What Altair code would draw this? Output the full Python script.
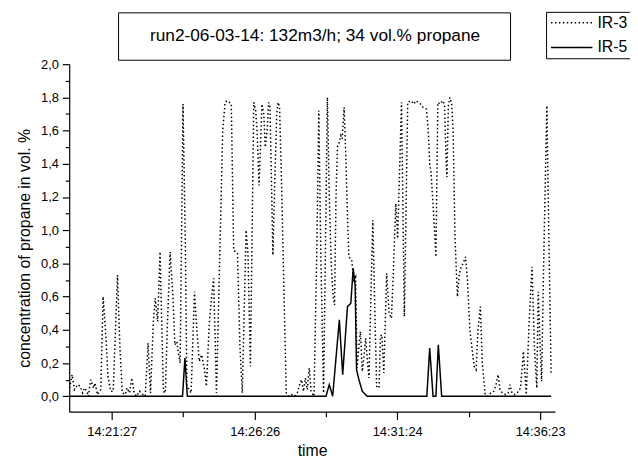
import altair as alt
import pandas as pd

FONT = "Liberation Sans"
TITLE = "run2-06-03-14: 132m3/h; 34 vol.% propane"
SERIES = ["IR-3", "IR-5"]

# time axis: seconds since midnight; samples are offsets (s) from 14:19:58
BASE = 51598
X_END = 52614
x_major = [51687, 51986, 52284, 52583]          # 14:21:27, 14:26:26, 14:31:24, 14:36:23
x_minor = [51836.5, 52135, 52433.5]
y_major = [0.0, 0.2, 0.4, 0.6, 0.8, 1.0, 1.2, 1.4, 1.6, 1.8, 2.0]
y_minor = [0.1, 0.3, 0.5, 0.7, 0.9, 1.1, 1.3, 1.5, 1.7, 1.9]

ir3_t = [
    1, 6, 11, 18, 23, 28, 32, 37, 40, 45,
    51, 54, 59, 66, 71, 77, 81, 87, 92, 101,
    106, 111, 117, 121, 126, 131, 136, 141, 147, 154,
    159, 165, 170, 176, 180, 185, 190, 193, 197, 201,
    205, 211, 217, 221, 225, 229, 232, 238, 243, 246,
    255, 262, 267, 272, 277, 283, 287, 293, 297, 302,
    308, 317, 321, 326, 330, 335, 339, 344, 352, 357,
    362, 370, 374, 379, 386, 390, 393, 397, 400, 403,
    407, 410, 414, 417, 420, 423, 426, 430, 434, 437,
    440, 444, 449, 454, 459, 465, 471, 477, 483, 486,
    490, 494, 498, 502, 506, 512, 518, 522, 526, 532,
    536, 540, 544, 548, 552, 555, 558, 561, 564, 568,
    571, 575, 579, 582, 585, 591, 595, 599, 602, 606,
    609, 613, 617, 620, 624, 627, 631, 635, 639, 643,
    648, 651, 654, 658, 664, 669, 674, 678, 683, 687,
    695, 701, 708, 715, 721, 725, 730, 735, 740, 747,
    751, 754, 757, 760, 764, 767, 771, 776, 781, 785,
    788, 790, 793, 796, 800, 803, 807, 812, 816, 820,
    824, 829, 833, 838, 842, 847, 851, 855, 860, 864,
    870, 875, 882, 888, 892, 897, 901, 906, 913, 918,
    922, 926, 931, 937, 944, 950, 956, 962, 968, 973,
    978, 981, 985, 988, 993, 999, 1003, 1008,
]
ir3_v = [
    0.05, 0.13, 0.04, 0.07, 0.06, 0.02, 0.05, 0.03, 0.00, 0.10,
    0.05, 0.08, 0.01, 0.04, 0.60, 0.35, 0.12, 0.03, 0.03, 0.73,
    0.30, 0.02, 0.01, 0.05, 0.02, 0.11, 0.02, 0.00, 0.03, 0.01,
    0.00, 0.32, 0.02, 0.45, 0.59, 0.45, 0.87, 0.50, 0.03, 0.02,
    0.40, 0.87, 0.60, 0.31, 0.33, 0.25, 0.20, 1.76, 0.90, 0.06,
    0.02, 0.63, 0.40, 0.21, 0.25, 0.16, 0.06, 0.44, 0.57, 0.71,
    0.02, 1.10, 1.60, 1.77, 1.78, 1.77, 1.76, 0.88, 0.86, 0.31,
    0.02, 1.00, 0.85, 0.18, 1.77, 1.72, 1.60, 1.27, 1.50, 1.76,
    1.70, 1.50, 1.60, 1.77, 1.74, 1.30, 0.85, 1.30, 1.70, 1.77,
    1.74, 1.30, 0.65, 0.02, 0.00, 0.01, 0.00, 0.02, 0.08, 0.10,
    0.03, 0.11, 0.04, 0.17, 0.03, 0.00, 0.90, 1.72, 0.90, 0.02,
    0.90, 1.80, 1.20, 0.80, 0.60, 0.55, 1.20, 1.50, 1.52, 1.57,
    1.55, 1.74, 1.40, 1.08, 0.84, 0.82, 0.70, 0.72, 0.17, 0.30,
    0.39, 0.15, 0.25, 0.35, 0.20, 0.11, 0.60, 1.06, 0.55, 0.06,
    0.05, 0.36, 0.37, 0.14, 0.74, 0.50, 0.47, 0.75, 1.16, 0.95,
    1.77, 0.48, 1.77, 1.78, 1.76, 1.78, 1.77, 1.76, 1.74, 1.73,
    1.60, 1.40, 1.34, 1.20, 1.00, 0.84, 1.77, 1.76, 1.78, 1.76,
    1.45, 1.32, 1.75, 1.80, 1.76, 1.60, 0.95, 0.60, 0.74, 0.78,
    0.80, 0.84, 0.70, 0.40, 0.30, 0.18, 0.16, 0.40, 0.54, 0.20,
    0.01, 0.00, 0.02, 0.03, 0.06, 0.13, 0.04, 0.02, 0.01, 0.02,
    0.07, 0.02, 0.01, 0.02, 0.05, 0.27, 0.01, 0.45, 0.78, 0.30,
    0.05, 0.63, 0.30, 0.09, 0.90, 1.75, 1.00, 0.13,
]
ir5_t = [1, 237, 242, 247, 537, 544, 551, 565, 572, 582, 589, 594,
         598, 601, 606, 613, 623, 748, 754, 761, 767, 772, 779, 1008]
ir5_v = [0, 0, 0.23, 0, 0, 0.07, 0, 0.46, 0.13, 0.54, 0.56, 0.77,
         0.67, 0.16, 0.10, 0.03, 0, 0, 0.29, 0, 0, 0.31, 0, 0]

rows = []
for t, v in zip(ir3_t, ir3_v):
    rows.append({"t": BASE + t, "v": v, "series": "IR-3"})
for t, v in zip(ir5_t, ir5_v):
    rows.append({"t": BASE + t, "v": v, "series": "IR-5"})
df = pd.DataFrame(rows)

xscale = alt.Scale(domain=[BASE, X_END], nice=False, zero=False)
yscale = alt.Scale(domain=[-0.093, 2.0], nice=False, zero=False)

common = dict(domainColor="black", tickColor="black", labelColor="black",
              titleColor="black", labelFont=FONT, titleFont=FONT, grid=False,
              domainWidth=1.2, tickWidth=1.2)

x_axis = alt.Axis(values=x_major, labelExpr="utcFormat(datum.value * 1000, '%H:%M:%S')",
                  tickSize=8, labelFontSize=13, labelPadding=6, labelFlush=False,
                  labelOverlap=False, title="time", titleFontSize=16,
                  titleFontWeight="normal", titlePadding=4, **common)
y_axis = alt.Axis(values=y_major, labelExpr="replace(format(datum.value, '.1f'), '.', ',')",
                  tickSize=7, labelFontSize=13, labelPadding=4, labelFlush=False,
                  labelOverlap=False, title="concentration of propane in vol. %",
                  titleFontSize=16, titleFontWeight="normal", titlePadding=8,
                  titleY=186, **common)
x_axis_minor = alt.Axis(values=x_minor, labels=False, tickSize=5, domain=False,
                        title=None, orient="bottom", tickColor="black", tickWidth=1.2, grid=False)
y_axis_minor = alt.Axis(values=y_minor, labels=False, tickSize=4, domain=False,
                        title=None, orient="left", tickColor="black", tickWidth=1.2, grid=False)

legend = alt.Legend(title=None, orient="none", legendX=483, legendY=-53,
                    symbolType="M-1,0H6", symbolSize=144, symbolStrokeColor="black",
                    symbolStrokeWidth=1.2, symbolFillColor="transparent",
                    labelFontSize=16, labelFont=FONT, labelColor="black", labelOffset=33,
                    strokeColor="black", fillColor="white", padding=3, rowPadding=9)

lines = alt.Chart(df).mark_line(color="black").encode(
    x=alt.X("t:Q", scale=xscale, axis=x_axis),
    y=alt.Y("v:Q", scale=yscale, axis=y_axis),
    strokeDash=alt.StrokeDash("series:N", scale=alt.Scale(domain=SERIES, range=[[1.5, 2.5], [1, 0]]),
                              legend=legend),
    strokeWidth=alt.StrokeWidth("series:N", scale=alt.Scale(domain=SERIES, range=[1.5, 1.5]),
                                legend=None),
)

minor = alt.Chart(df).mark_point(opacity=0).encode(
    x=alt.X("t:Q", scale=xscale, axis=x_axis_minor),
    y=alt.Y("v:Q", scale=yscale, axis=y_axis_minor),
)

one = pd.DataFrame({"k": [0]})
box = alt.Chart(one).mark_rect(fill="white", stroke="black", strokeWidth=1).encode(
    x=alt.value(50), x2=alt.value(447), y=alt.value(-52), y2=alt.value(-4))
title = alt.Chart(one).mark_text(font=FONT, fontSize=17.5, color="black",
                                 align="center", baseline="middle").encode(
    x=alt.value(249), y=alt.value(-28), text=alt.value(TITLE))

chart = alt.layer(lines, minor, box, title).resolve_axis(
    x="independent", y="independent"
).properties(
    width=492, height=352,
    padding={"left": 62, "top": 54, "right": 76, "bottom": 47},
    autosize=alt.AutoSizeParams(type="none"),
).configure_view(strokeWidth=0)

chart.save("out.html", embed_options={"renderer": "svg", "actions": False})
